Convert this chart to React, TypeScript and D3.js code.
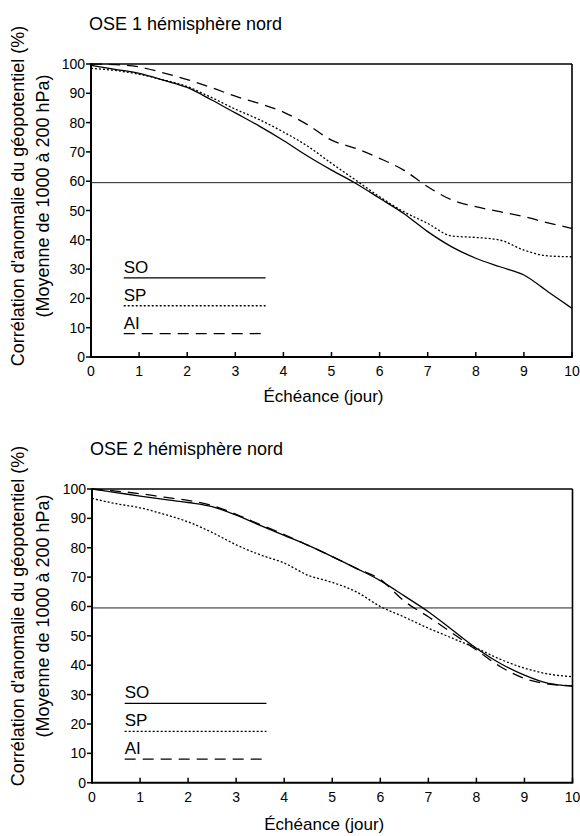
import React from 'react';
import * as d3 from 'd3';

const W = 580;
const H = 836;
const FONT = '"Liberation Sans", Arial, Helvetica, sans-serif';

// échéance en jours (pas de 0.5)
const days = [0, 0.5, 1, 1.5, 2, 2.5, 3, 3.5, 4, 4.5, 5, 5.5, 6, 6.5, 7, 7.5, 8, 8.5, 9, 9.5, 10];

// OSE 1
const ose1SO = [99.5, 98.2, 96.8, 94.5, 92, 87.8, 83.3, 78.8, 73.9, 68.6, 63.8, 59.3, 54.2, 49, 42.8, 37.6, 33.7, 30.8, 28, 22.3, 16.6];
const ose1SP = [98.5, 97.8, 96.5, 94.6, 92.3, 88.6, 84.6, 81, 76.8, 72, 66.1, 60.4, 54.7, 49.6, 45.6, 41.3, 40.8, 39.9, 36.5, 34.5, 34.2];
const ose1AI = [100, 99.8, 99, 97, 94.7, 92, 89, 86.5, 83.6, 79.3, 74, 71.2, 67.8, 63.8, 58.1, 53.6, 51.3, 49.6, 47.9, 45.8, 43.9];

// OSE 2
const ose2SO = [100, 98.8, 97.6, 96.5, 95.4, 94, 91.1, 87.6, 84.2, 80.8, 77, 73, 68.8, 63.6, 58.2, 52, 45.8, 40.6, 36.6, 33.8, 32.9];
const ose2SP = [96.8, 95, 93.6, 91.4, 88.8, 85.2, 81, 77.6, 74.8, 70.6, 68.2, 65, 60, 56.4, 52.6, 49.2, 45.8, 42, 39, 37, 36.1];
const ose2AI = [100, 99.3, 98.4, 97.2, 96.1, 94.4, 91.4, 87.9, 84.5, 80.8, 77, 73, 69.2, 61.8, 56.5, 50.9, 45.2, 39.5, 35.5, 33.6, 33];

const xTicks = [0, 1, 2, 3, 4, 5, 6, 7, 8, 9, 10];
const yTicks = [0, 10, 20, 30, 40, 50, 60, 70, 80, 90, 100];
const refLevel = 59.5;

const seriesNames = ['SO', 'SP', 'AI'];
const dashes: Record<string, string | undefined> = { SO: undefined, SP: '2,2', AI: '11,7' };
const legendY = [27, 17.5, 8];
const legendX = [0.68, 3.63];

type PanelProps = {
  title: string;
  series: number[][];
  left: number;
  right: number;
  top: number;
  bottom: number;
  labelCenter: number;
  xLabelGap: number;
};

function Panel({ title, series, left, right, top, bottom, labelCenter, xLabelGap }: PanelProps) {
  const x = d3.scaleLinear().domain([0, 10]).range([left, right]);
  const y = d3.scaleLinear().domain([0, 100]).range([bottom, top]);
  const line = d3
    .line<number>()
    .x((d, i) => x(days[i]))
    .y((d) => y(d))
    .curve(d3.curveMonotoneX);

  return (
    <g>
      <text x={left - 2} y={top - 34} fontSize={18} fontFamily={FONT}>
        {title}
      </text>

      {/* cadre */}
      <line x1={left} x2={right} y1={y(100)} y2={y(100)} stroke="#000" strokeWidth={1.6} />
      <line x1={right} x2={right} y1={y(100)} y2={y(0)} stroke="#000" strokeWidth={1.6} />
      <line x1={left} x2={left} y1={y(100) - 0.8} y2={y(0) + 1} stroke="#000" strokeWidth={2} />
      <line x1={left} x2={right + 0.8} y1={y(0)} y2={y(0)} stroke="#000" strokeWidth={2} />

      {/* ligne 60 % */}
      <line x1={left} x2={right} y1={y(refLevel)} y2={y(refLevel)} stroke="#222" strokeWidth={1} />

      {yTicks.map((t) => (
        <g key={'y' + t}>
          <line x1={left - 5} x2={left} y1={y(t)} y2={y(t)} stroke="#000" strokeWidth={1.5} />
          <text x={left - 6} y={y(t) + 5} fontSize={14} textAnchor="end" fontFamily={FONT}>
            {t}
          </text>
        </g>
      ))}
      {xTicks.map((t) => (
        <g key={'x' + t}>
          <line x1={x(t)} x2={x(t)} y1={y(0)} y2={y(0) - 5} stroke="#000" strokeWidth={1.5} />
          <text x={x(t)} y={y(0) + 19} fontSize={14} textAnchor="middle" fontFamily={FONT}>
            {t}
          </text>
        </g>
      ))}

      <text x={(x(0) + x(10)) / 2 - 8} y={y(0) + xLabelGap} fontSize={17} textAnchor="middle" fontFamily={FONT}>
        Échéance (jour)
      </text>
      <text
        transform={`translate(24,${labelCenter}) rotate(-90)`}
        fontSize={18}
        textAnchor="middle"
        fontFamily={FONT}
      >
        Corrélation d'anomalie du géopotentiel (%)
      </text>
      <text
        transform={`translate(49,${labelCenter}) rotate(-90)`}
        fontSize={18}
        textAnchor="middle"
        fontFamily={FONT}
      >
        (Moyenne de 1000 à 200 hPa)
      </text>

      {series.map((s, i) => (
        <path
          key={seriesNames[i]}
          d={line(s) || ''}
          fill="none"
          stroke="#000"
          strokeWidth={1.3}
          strokeDasharray={dashes[seriesNames[i]]}
        />
      ))}

      {seriesNames.map((n, i) => (
        <g key={'lg' + n}>
          <line
            x1={x(legendX[0])}
            x2={x(legendX[1])}
            y1={y(legendY[i])}
            y2={y(legendY[i])}
            stroke="#000"
            strokeWidth={1.3}
            strokeDasharray={dashes[n]}
          />
          <text x={x(legendX[0])} y={y(legendY[i]) - 5} fontSize={17} fontFamily={FONT}>
            {n}
          </text>
        </g>
      ))}
    </g>
  );
}

export default function App() {
  return (
    <svg width={W} height={H} style={{ position: 'absolute', left: 0, top: 0, background: '#fff' }}>
      <rect width={W} height={H} fill="#fff" />
      <Panel
        title="OSE 1 hémisphère nord"
        series={[ose1SO, ose1SP, ose1AI]}
        left={91}
        right={572}
        top={64}
        bottom={357}
        labelCenter={196}
        xLabelGap={45}
      />
      <Panel
        title="OSE 2 hémisphère nord"
        series={[ose2SO, ose2SP, ose2AI]}
        left={92}
        right={572.5}
        top={489}
        bottom={782.7}
        labelCenter={616}
        xLabelGap={47}
      />
    </svg>
  );
}
